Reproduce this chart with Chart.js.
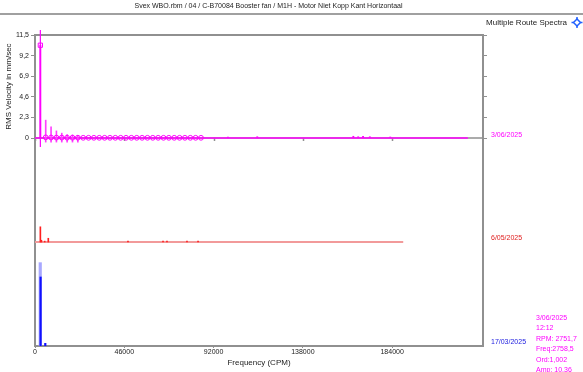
<!DOCTYPE html>
<html>
<head>
<meta charset="utf-8">
<script src="https://cdn.jsdelivr.net/npm/chart.js@4.4.1/dist/chart.umd.min.js"></script>
<style>
  html, body { margin: 0; padding: 0; background: #fff; }
  #wrap { width: 583px; height: 372px; }
</style>
</head>
<body>
<div id="wrap"><canvas id="spectra"></canvas></div>
<script>
const chartTitle = "Svex WBO.rbm / 04 / C-B70084 Booster fan / M1H - Motor Niet Kopp Kant Horizontaal";
const yTickValues = [0, 2.3, 4.6, 6.9, 9.2, 11.5];
const xTickValues = [0, 46000, 92000, 138000, 184000];
const traceDates = ["3/06/2025", "6/05/2025", "17/03/2025"];
const traceColors = ["#ff00ff", "#e02020", "#2020e0"];
const traceSpacing = 11.6; // waterfall offset between spectra

// 3/06/2025 (top)
const junFreq = [2758.5, 99400, 114500, 164000, 166500, 169000, 172500, 183000];
const junAmp = [10.36, 0.12, 0.15, 0.2, 0.15, 0.2, 0.15, 0.12];
const junEnd = 223000;

// cursor + harmonics on the top spectrum
const cursorFreq = 2758.5;
const cursorAmp = 10.36;
const harmonicOrders = [2, 3, 4, 5, 6, 7, 8, 9, 10, 11, 12, 13, 14, 15, 16, 17, 18, 19, 20, 21, 22, 23, 24, 25, 26, 27, 28, 29, 30, 31];
const harmonicAmp = [0.08, 0.06, 0.05, 0.05, 0.04, 0.04, 0.04, 0.03, 0.03, 0.03, 0.03, 0.03, 0.03, 0.03, 0.03, 0.03, 0.03, 0.03, 0.03, 0.03, 0.03, 0.03, 0.03, 0.03, 0.03, 0.03, 0.03, 0.03, 0.03, 0.03];
const harmonicMarkTop = [2.0, 1.25, 0.8, 0.55, 0.4, 0.35, 0.3];
const harmonicMarkBottom = -0.45;
const cursorInfo = ["3/06/2025", "12:12", "RPM: 2751,7", "Freq:2758,5", "Ord:1,002", "Amp: 10,36"];

// 6/05/2025 (middle)
const mayFreq = [2758.5, 3300, 5000, 6850, 47900, 65950, 68000, 78300, 84000];
const mayAmp = [1.7, 0.2, 0.1, 0.42, 0.12, 0.12, 0.1, 0.12, 0.1];
const mayEnd = 189700;

// 17/03/2025 (bottom)
const marFreq = [2880, 5300];
const marAmp = [7.7, 0.3];
const marHoldFreq = [2700];
const marHoldAmp = [9.3];

function peaks(freq, amp, base) {
  return freq.map((f, i) => ({ x: f, y: [base, base + amp[i]] }));
}
function baseline(end, base) {
  return [{ x: 0, y: base }, { x: end, y: base }];
}

const base0 = 0, base1 = -traceSpacing, base2 = -2 * traceSpacing;
const font = "Liberation Sans, Arial, sans-serif";

const decorPlugin = {
  id: "decor",
  beforeDraw(chart) {
    const c = chart.ctx;
    c.save();
    c.fillStyle = "#fff";
    c.fillRect(0, 0, chart.width, chart.height);
    // title bar
    c.fillStyle = "#222";
    c.font = "7px " + font;
    c.textAlign = "center";
    c.textBaseline = "middle";
    c.fillText(chartTitle, 268.5, 6);
    c.fillStyle = "#a0a0a0";
    c.fillRect(0, 13, chart.width, 2);
    c.fillStyle = "#222";
    c.font = "8px " + font;
    c.textAlign = "right";
    c.fillText("Multiple Route Spectra", 567, 22.5);
    // little diamond icon
    c.strokeStyle = "#2060ff";
    c.lineWidth = 1.5;
    c.beginPath();
    c.moveTo(577, 19); c.lineTo(580.5, 22.5); c.lineTo(577, 26); c.lineTo(573.5, 22.5); c.closePath();
    c.stroke();
    c.beginPath();
    c.moveTo(577, 17); c.lineTo(577, 19);
    c.moveTo(577, 26); c.lineTo(577, 28);
    c.moveTo(571.5, 22.5); c.lineTo(573.5, 22.5);
    c.moveTo(580.5, 22.5); c.lineTo(582.5, 22.5);
    c.stroke();
    c.restore();
  },
  beforeDatasetsDraw(chart) {
    const c = chart.ctx, xs = chart.scales.x, ys = chart.scales.y, a = chart.chartArea;
    const y0 = ys.getPixelForValue(base0);
    c.save();
    // axis of the top spectrum
    c.strokeStyle = "#909090";
    c.lineWidth = 1.5;
    c.beginPath();
    c.moveTo(a.left, y0); c.lineTo(a.right, y0);
    xTickValues.forEach(v => {
      const px = Math.round(xs.getPixelForValue(v)) + 0.5;
      c.moveTo(px, y0); c.lineTo(px, y0 + 3);
    });
    c.stroke();
    c.restore();
  },
  afterDraw(chart) {
    const c = chart.ctx, xs = chart.scales.x, ys = chart.scales.y, a = chart.chartArea;
    c.save();
    // top border
    c.strokeStyle = "#909090";
    c.lineWidth = 2;
    c.beginPath();
    c.moveTo(a.left, a.top); c.lineTo(a.right, a.top);
    c.stroke();
    // cursor line
    const cx = xs.getPixelForValue(cursorFreq);
    c.strokeStyle = "#ff00ff";
    c.lineWidth = 1.2;
    c.beginPath();
    c.moveTo(cx, a.top - 5); c.lineTo(cx, ys.getPixelForValue(base0) + 9);
    c.stroke();
    // date labels
    c.font = "7px " + font;
    c.textAlign = "left";
    c.textBaseline = "middle";
    [base0, base1, base2].forEach((b, i) => {
      c.fillStyle = traceColors[i];
      c.fillText(traceDates[i], 491, ys.getPixelForValue(b) - 3.5);
    });
    // cursor info
    c.fillStyle = "#ff00ff";
    cursorInfo.forEach((t, i) => c.fillText(t, 536, 318 + i * 10.5));
    // y axis title, centred on the top spectrum
    c.fillStyle = "#222";
    c.font = "8px " + font;
    c.textAlign = "center";
    c.translate(8.5, (ys.getPixelForValue(11.5) + ys.getPixelForValue(0)) / 2);
    c.rotate(-Math.PI / 2);
    c.fillText("RMS Velocity in mm/sec", 0, 0);
    c.restore();
  }
};

const barOpts = { type: "bar", grouped: false, borderWidth: 0 };

new Chart(document.getElementById("spectra"), {
  type: "bar",
  data: {
    datasets: [
      { type: "line", data: [{ x: cursorFreq, y: cursorAmp }], showLine: false, pointStyle: "rect",
        pointRadius: 3, borderColor: "#ff00ff", backgroundColor: "rgba(0,0,0,0)", pointBorderWidth: 1, order: 0 },
      { type: "line", data: harmonicOrders.map((k, i) => ({ x: k * cursorFreq, y: base0 + harmonicAmp[i] })),
        showLine: false, pointStyle: "circle", pointRadius: 2.4, borderColor: "#ff00ff",
        backgroundColor: "rgba(0,0,0,0)", pointBorderWidth: 1, order: 1 },
      { ...barOpts, data: harmonicMarkTop.map((t, i) => ({ x: harmonicOrders[i] * cursorFreq, y: [harmonicMarkBottom, t] })),
        backgroundColor: "#ff40ff", barThickness: 1, order: 2 },
      { ...barOpts, data: peaks(junFreq, junAmp, base0), backgroundColor: "#ff00ff", barThickness: 1.2, order: 3 },
      { type: "line", data: baseline(junEnd, base0), borderColor: "#ff00ff", borderWidth: 1.5, pointRadius: 0, order: 4 },
      { ...barOpts, data: peaks(mayFreq, mayAmp, base1), backgroundColor: "#ff2020", barThickness: 1, order: 5 },
      { type: "line", data: baseline(mayEnd, base1), borderColor: "#f29a9a", borderWidth: 2, pointRadius: 0, order: 6 },
      { ...barOpts, data: peaks(marFreq, marAmp, base2), backgroundColor: "#1010ff", barThickness: 1.5, order: 7 },
      { ...barOpts, data: peaks(marHoldFreq, marHoldAmp, base2), backgroundColor: "#a8a8ff", barThickness: 2.5, order: 8 }
    ]
  },
  options: {
    responsive: true,
    maintainAspectRatio: false,
    animation: false,
    events: [],
    layout: { padding: { top: 35, left: 0, right: 0, bottom: 4 } },
    plugins: { legend: { display: false }, tooltip: { enabled: false } },
    scales: {
      x: {
        type: "linear",
        min: 0,
        max: 230800,
        offset: false,
        afterBuildTicks: s => { s.ticks = xTickValues.map(v => ({ value: v })); },
        afterFit: s => { s.height = 22; },
        ticks: { font: { family: font, size: 7 }, color: "#222", padding: 0, maxRotation: 0,
                 callback: v => String(v) },
        grid: { drawOnChartArea: false, offset: false, tickLength: 2, color: "#909090" },
        border: { color: "#909090", width: 2 },
        title: { display: true, text: "Frequency (CPM)", font: { family: font, size: 8 }, color: "#222",
                 padding: { top: 0, bottom: 0 } }
      },
      y: {
        type: "linear",
        position: "left",
        min: -2 * traceSpacing,
        max: 11.5,
        afterBuildTicks: s => { s.ticks = yTickValues.map(v => ({ value: v })); },
        afterFit: s => { s.width = 35; },
        ticks: { font: { family: font, size: 7 }, color: "#222", padding: 2,
                 callback: v => String(v).replace(".", ",") },
        grid: { drawOnChartArea: false, tickLength: 4, color: "#909090" },
        border: { color: "#909090", width: 2 }
      },
      y2: {
        type: "linear",
        position: "right",
        min: -2 * traceSpacing,
        max: 11.5,
        afterBuildTicks: s => { s.ticks = yTickValues.map(v => ({ value: v })); },
        afterFit: s => { s.width = 100; },
        ticks: { display: false },
        grid: { drawOnChartArea: false, tickLength: 4, color: "#909090" },
        border: { color: "#909090", width: 2 }
      }
    }
  },
  plugins: [decorPlugin]
});
</script>
</body>
</html>
